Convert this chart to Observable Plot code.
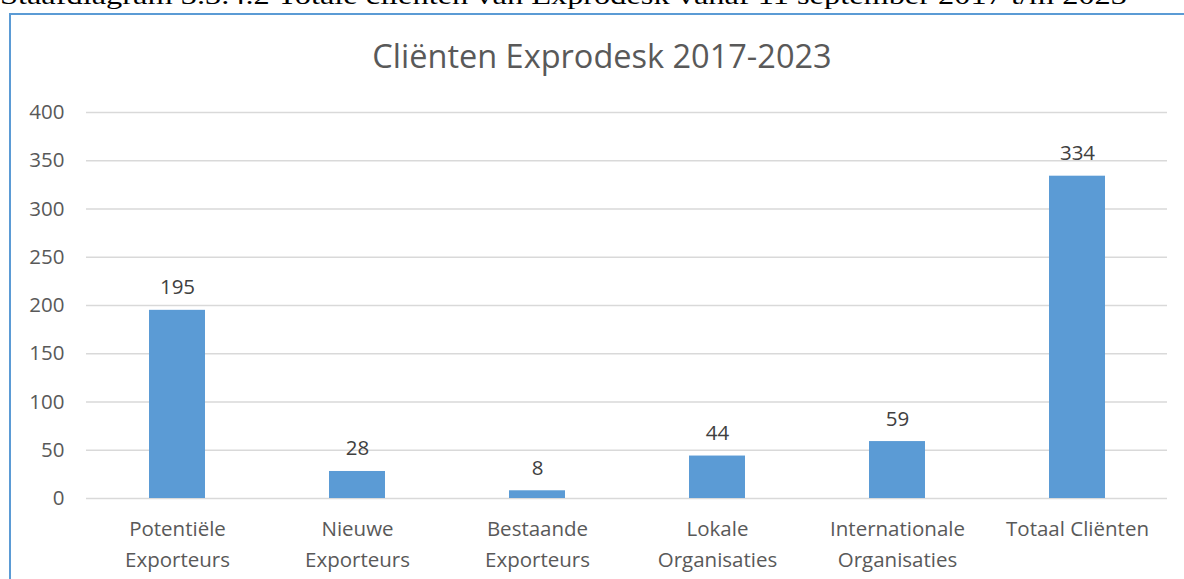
<!DOCTYPE html>
<html>
<head>
<meta charset="utf-8">
<script src="https://cdn.jsdelivr.net/npm/d3@7"></script>
<script src="https://cdn.jsdelivr.net/npm/@observablehq/plot@0.6"></script>
<style>
  html, body { margin: 0; padding: 0; background: #fff; overflow: hidden; }
  body { width: 1184px; height: 579px; position: relative; font-family: "Open Sans", sans-serif; }
  #caption { position: absolute; left: 0; top: -20px; }
  #frame { position: absolute; left: 9px; top: 13px; width: 1300px; height: 700px; border: 2px solid #5b9bd5; box-sizing: border-box; }
  #title { position: absolute; left: 0; width: 1204px; top: 33px; text-align: center; font-size: 32.5px; color: #595959; }
  #chart { position: absolute; left: 0; top: 0; }
</style>
</head>
<body>
<svg id="caption" width="1184" height="30"><text x="0" y="24" font-family="Liberation Serif, serif" font-size="26" fill="#000" textLength="1127" lengthAdjust="spacingAndGlyphs">Staafdiagram 3.3.4.2 Totale cliënten van Exprodesk vanaf 11 september 2017 t/m 2023</text></svg>
<div id="frame"></div>
<div id="title">Cliënten Exprodesk 2017-2023</div>
<div id="chart"></div>
<script>
const categories = ["Potentiële Exporteurs", "Nieuwe Exporteurs", "Bestaande Exporteurs", "Lokale Organisaties", "Internationale Organisaties", "Totaal Cliënten"];
const tickLabels = ["Potentiële\nExporteurs", "Nieuwe\nExporteurs", "Bestaande\nExporteurs", "Lokale\nOrganisaties", "Internationale\nOrganisaties", "Totaal Cliënten"];
const values = [195, 28, 8, 44, 59, 334];
const yTicks = [0, 50, 100, 150, 200, 250, 300, 350, 400];

const data = categories.map((c, i) => ({category: c, value: values[i], label: tickLabels[i]}));
const labelOf = new Map(data.map(d => [d.category, d.label]));

const chart = Plot.plot({
  width: 1184,
  height: 579,
  marginLeft: 86,
  marginRight: 17,
  marginTop: 112,
  marginBottom: 81,
  style: {fontFamily: "Open Sans, sans-serif", fontSize: "20px", color: "#595959", background: "transparent"},
  x: {domain: categories, paddingInner: 0.69, paddingOuter: 0.345, label: null},
  y: {domain: [0, 400], label: null},
  marks: [
    Plot.gridY(yTicks, {stroke: "#d9d9d9", strokeOpacity: 1, strokeWidth: 1.5}),
    Plot.barY(data, {x: "category", y: "value", fill: "#5b9bd5"}),
    Plot.text(data, {x: "category", y: "value", text: d => String(d.value), lineAnchor: "bottom", dy: -16, fontSize: 20.5, fill: "#404040"}),
    Plot.axisY(yTicks, {tickSize: 0, tickPadding: 22, fontSize: 20.5, fill: "#595959", label: null}),
    Plot.axisX({tickSize: 0, tickPadding: 15, fontSize: 20.5, fill: "#595959", lineHeight: 1.52, tickFormat: c => labelOf.get(c), label: null})
  ]
});
document.getElementById("chart").appendChild(chart);
</script>
</body>
</html>
